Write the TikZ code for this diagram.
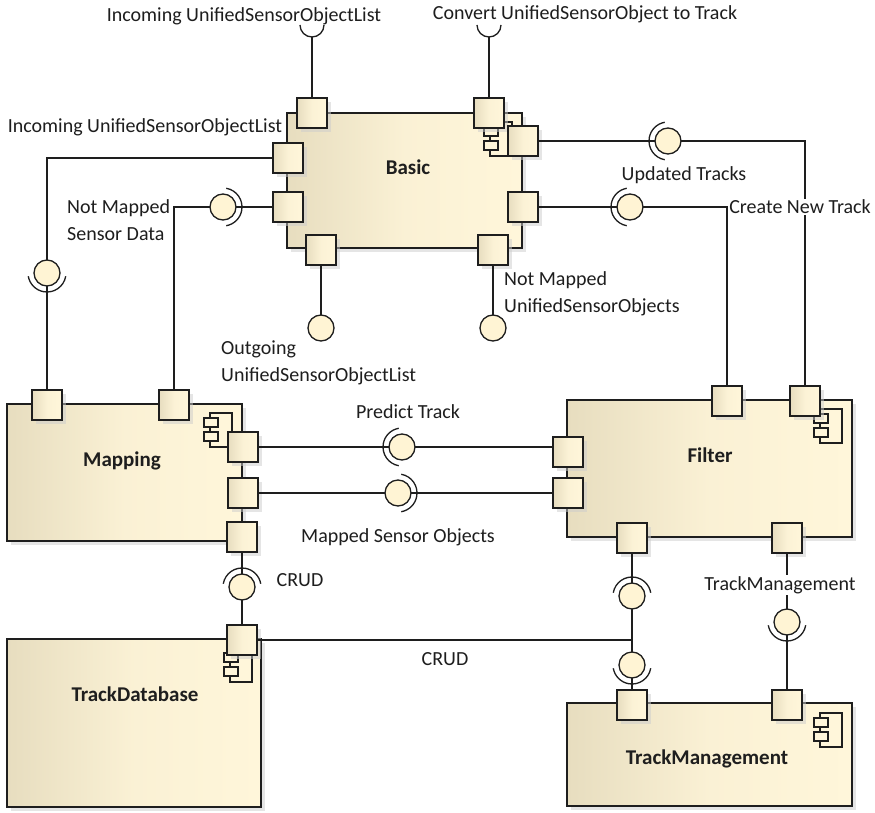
\documentclass[tikz,border=0pt]{standalone}
\usepackage{fontspec}
\setmainfont{Carlito}
\usetikzlibrary{shadows}
\definecolor{compL}{RGB}{231,221,191}
\definecolor{compR}{RGB}{255,246,218}
\definecolor{ballC}{RGB}{255,244,212}
\definecolor{lineC}{RGB}{30,30,30}

\newcommand{\compicon}[1]{%
	\draw[iconline] (#1) rectangle ++(22,34);
	\draw[iconline] (#1) ++(-6,5) rectangle ++(14,9);
	\draw[iconline] (#1) ++(-6,19) rectangle ++(14,9);
}
\newcommand{\socket}[2]{%
	\draw[sock] (#1.center) ++(#2-80:19) arc[start angle=#2-80, end angle=#2+80, radius=19];
}

\begin{document}
\begin{tikzpicture}[x=1pt,y=-1pt,
	comp/.style={draw=lineC, line width=1.6pt, left color=compL, right color=compR,
		middle color=compR!80!compL,
		drop shadow={shadow xshift=4pt, shadow yshift=-4pt, fill=black!20}, inner sep=0pt},
	port/.style={draw=lineC, line width=1.6pt, left color=compL, right color=compR,
		middle color=compR!85!compL, minimum size=30pt, inner sep=0pt,
		drop shadow={shadow xshift=4pt, shadow yshift=-4pt, fill=black!20}},
	ball/.style={circle, draw=lineC, line width=1.3pt, fill=ballC, minimum size=26pt, inner sep=0pt},
	wire/.style={draw=lineC, line width=1.3pt},
	sock/.style={draw=lineC, line width=1.3pt},
	iconline/.style={draw=lineC, line width=1.2pt, fill=compR},
	cname/.style={font=\fontsize{21}{25}\selectfont\bfseries, text=lineC},
	lbl/.style={font=\fontsize{20}{27}\selectfont, text=lineC, inner sep=1pt},
]
\useasboundingbox[fill=white] (0,0) rectangle (875,813);

% components
\node[comp, minimum width=235pt, minimum height=135pt] (basic) at (404.5,180.5) {};
\node[comp, minimum width=235pt, minimum height=137pt] (mapping) at (124.5,472.5) {};
\node[comp, minimum width=285pt, minimum height=137pt] (filter) at (709.5,468.5) {};
\node[comp, minimum width=254pt, minimum height=168pt] (trackdb) at (134,723) {};
\node[comp, minimum width=285pt, minimum height=103pt] (trackmgmt) at (709.5,754.5) {};

\node[cname] (nBasic) at (408,167) {Basic};
\node[cname] (nMapping) at (122,461) {Mapping};
\node[cname] (nFilter) at (710,455) {Filter};
\node[cname] (nTrackdb) at (135,694) {TrackDatabase};
\node[cname] (nTrackmgmt) at (707,759) {TrackManagement};

\compicon{490,122}
\compicon{210,413}
\compicon{820,409}
\compicon{820,713}
\compicon{230,648}

% ports
\foreach \nm/\x/\y in {bT1/312/113, bT2/489/113, bL1/288/158, bL2/288/207, bR1/523/141,
	bR2/523/207, bB1/321/250, bB2/493/250, mT1/47/405, mT2/174/405, mR1/243/447,
	mR2/243/493, mR3/242/537, fT1/727/401, fT2/805/401, fL1/568/452, fL2/568/493,
	fB1/632/538, fB2/787/538, tT1/632/705, tT2/787/705, dP/242/640}
{
	\node[port] (\nm) at (\x,\y) {};
}

% connectors
\coordinate (sA) at (312,37);
\coordinate (sB) at (489,37);
\draw[wire] (bT1.north) -- (sA);
\draw[wire] (bT2.north) -- (sB);
\draw[sock] (sA) ++(12,-12) arc[start angle=0, end angle=180, radius=12];
\draw[sock] (sB) ++(12,-12) arc[start angle=0, end angle=180, radius=12];
\draw[wire] (bL1.west) -| (mT1.north);
\draw[wire] (bL2.west) -| (mT2.north);
\draw[wire] (bR1.east) -| (fT2.north);
\draw[wire] (bR2.east) -| (fT1.north);
\draw[wire] (mR1.east) -- (fL1.west |- mR1);
\draw[wire] (mR2.east) -- (fL2.west);
\draw[wire] (mR3.south) -- (dP.north);
\draw[wire] (fB1.south) -- (tT1.north);
\draw[wire] (dP.east) -- (dP.east -| fB1);
\draw[wire] (fB2.south) -- (tT2.north);
\draw[wire] (bB1.south) -- (321,328);
\draw[wire] (bB2.south) -- (493,328);

% interfaces
\foreach \nm/\x/\y in {iA/47/273, iB/223/207, iC/668/141, iD/630/207, iE/402/447,
	iF/398/493, iG/242/587, iH/632/596, iI/632/665, iJ/787/622, iK/321/328, iL/493/328}
{
	\node[ball] (\nm) at (\x,\y) {};
}
\foreach \nm/\a in {iA/90, iB/0, iC/180, iD/180, iE/180, iF/0, iG/270, iH/270, iI/90, iJ/90}
{
	\socket{\nm}{\a}
}

% labels
\node[lbl] (l1) at (244,16) {Incoming UnifiedSensorObjectList};
\node[lbl] (l2) at (585,14) {Convert UnifiedSensorObject to Track};
\node[lbl] (l3) at (145,127) {Incoming UnifiedSensorObjectList};
\node[lbl, align=left, anchor=north west] (l4) at (66,198) {Not Mapped\\Sensor Data};
\node[lbl] (l5) at (684,175) {Updated Tracks};
\node[lbl, fill=white] (l6) at (800,207) {Create New Track};
\node[lbl, align=left, anchor=north west] (l7) at (503,270) {Not Mapped\\UnifiedSensorObjects};
\node[lbl, align=left, anchor=north west] (l8) at (220,340) {Outgoing\\UnifiedSensorObjectList};
\node[lbl] (l9) at (408,412) {Predict Track};
\node[lbl] (l10) at (398,537) {Mapped Sensor Objects};
\node[lbl] (l11) at (300,580) {CRUD};
\node[lbl] (l12) at (445,659) {CRUD};
\node[lbl, fill=white] (l13) at (780,585) {TrackManagement};
\end{tikzpicture}
\end{document}
